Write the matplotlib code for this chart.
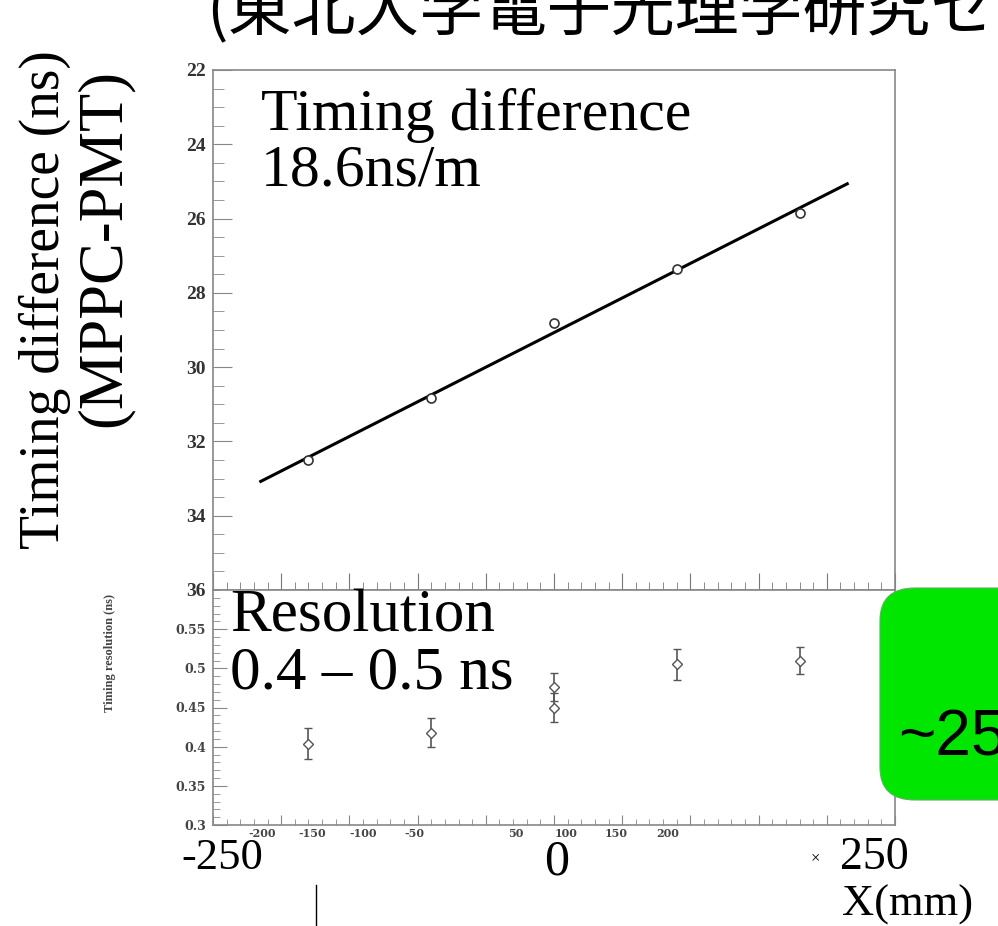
import numpy as np
import matplotlib.pyplot as plt
from matplotlib.patches import FancyBboxPatch
from matplotlib.ticker import MultipleLocator

# positions along the bar (mm)
pos = [-180, -90, 0, 90, 180]
# timing difference MPPC-PMT (ns)
tdiff = [32.5, 30.83, 28.81, 27.36, 25.85]
# timing resolution (ns), two runs at the centre
res_x = [-180, -90, 0, 0, 90, 180]
res = [0.404, 0.418, 0.476, 0.450, 0.505, 0.510]
res_err = [0.02, 0.018, 0.018, 0.018, 0.02, 0.017]
# original small tick labels of the lower pad
small_ticks = [-200, -150, -100, -50, 50, 100, 150, 200]

W, H = 998, 926
serif = ['Liberation Serif', 'DejaVu Serif']
tickfont = ['DejaVu Serif']

fig = plt.figure(figsize=(W / 100, H / 100), dpi=100)


def fx(px):
    return px / W


def fy(py):
    return 1 - py / H


ax1 = fig.add_axes([fx(213), fy(590), fx(895) - fx(213), (590 - 70) / H])
ax2 = fig.add_axes([fx(213), fy(825), fx(895) - fx(213), (825 - 590) / H])

# fit line
p = np.polyfit(pos, tdiff, 1)
xl = np.array([-215, 215])
ax1.plot(xl, np.polyval(p, xl), color='black', lw=2.2)
ax1.plot(pos, tdiff, 'o', mfc='white', mec='#333333', ms=6.5, mew=1.2)
ax1.set_xlim(-250, 250)
ax1.set_ylim(36, 22)
ax1.yaxis.set_major_locator(MultipleLocator(2))
ax1.yaxis.set_minor_locator(MultipleLocator(0.5))
ax1.xaxis.set_major_locator(MultipleLocator(50))
ax1.xaxis.set_minor_locator(MultipleLocator(10))
ax1.tick_params(axis='x', which='both', direction='in', labelbottom=False, top=False)
ax1.tick_params(axis='x', which='major', length=12, color='#777777')
ax1.tick_params(axis='x', which='minor', length=6, color='#777777')
ax1.tick_params(axis='y', which='both', direction='in', right=False, pad=5, color='#888888')
ax1.tick_params(axis='y', which='major', length=14)
ax1.tick_params(axis='y', which='minor', length=8)
for lab in ax1.get_yticklabels():
    lab.set_fontfamily(serif)
    lab.set_fontweight('bold')
    lab.set_fontsize(14)
    lab.set_color('#333333')
ax1.text(0.07, 0.965, 'Timing difference\n18.6ns/m', transform=ax1.transAxes,
         family=serif, fontsize=43, va='top', ha='left', linespacing=1.03)

ax2.errorbar(res_x, res, yerr=res_err, fmt='D', mfc='white', mec='#555555', ms=5,
             ecolor='#555555', elinewidth=1.2, capsize=3, mew=1)
ax2.set_xlim(-250, 250)
ax2.set_ylim(0.3, 0.6)
ax2.yaxis.set_major_locator(MultipleLocator(0.05))
ax2.yaxis.set_minor_locator(MultipleLocator(0.01))
ax2.xaxis.set_major_locator(MultipleLocator(50))
ax2.xaxis.set_minor_locator(MultipleLocator(10))
ax2.tick_params(axis='x', which='both', direction='in', labelbottom=False, color='#888888')
ax2.tick_params(axis='x', which='major', length=7)
ax2.tick_params(axis='x', which='minor', length=4)
ax2.tick_params(axis='y', which='both', direction='in', color='#888888', pad=5)
ax2.tick_params(axis='y', which='major', length=10)
ax2.tick_params(axis='y', which='minor', length=5)
ax2.set_yticks([0.3, 0.35, 0.4, 0.45, 0.5, 0.55])
ax2.set_yticklabels(['0.3', '0.35', '0.4', '0.45', '0.5', '0.55'])
for lab in ax2.get_yticklabels():
    lab.set_fontfamily(tickfont)
    lab.set_fontweight('bold')
    lab.set_fontsize(9)
    lab.set_color('#444444')
ax2.text(0.025, 1.005, 'Resolution\n0.4 \u2013 0.5 ns', transform=ax2.transAxes,
         family=serif, fontsize=44, va='top', ha='left', linespacing=1.03)

for ax in (ax1, ax2):
    for s in ax.spines.values():
        s.set_color('#888888')
        s.set_linewidth(1.2)

# squeezed tick labels of the original pad
for v in small_ticks:
    ax2.text(0.743 * v - 65.5, -0.035, '%d' % v, transform=ax2.get_xaxis_transform(),
             family=tickfont, fontweight='bold', fontsize=8, color='#444444',
             ha='center', va='center')

# slide overlay texts
fig.text(fx(206), fy(30), '(東北大学電子光理学研究セ', fontsize=46,
         family=['Noto Sans CJK JP', 'DejaVu Sans'], ha='left', va='baseline')
fig.text(fx(45), fy(300), 'Timing difference (ns)', rotation=90, family=serif,
         fontsize=40, ha='center', va='center')
fig.text(fx(105), fy(248), '(MPPC-PMT)', rotation=90, family=serif,
         fontsize=45, ha='center', va='center')
fig.text(fx(110), fy(653), 'Timing resolution (ns)', rotation=90, family=serif,
         fontsize=9, fontweight='bold', ha='center', va='center', color='#444444')
fig.text(fx(222), fy(858), '-250', family=serif, fontsize=32, ha='center', va='center')
fig.text(fx(557), fy(862), '0', family=serif, fontsize=36, ha='center', va='center')
fig.text(fx(815), fy(858), '\u00d7', family=serif, fontsize=12, ha='center', va='center')
fig.text(fx(874), fy(858), '250', family=serif, fontsize=33, ha='center', va='center')
fig.text(fx(908), fy(905), 'X(mm)', family=serif, fontsize=32, ha='center', va='center')
fig.add_artist(plt.Line2D([fx(316), fx(316)], [fy(885), 0], color='black', lw=1))

box = FancyBboxPatch((fx(880), fy(800)), fx(1060) - fx(880), (800 - 588) / H,
                     boxstyle='round,pad=0,rounding_size=0.035', transform=fig.transFigure,
                     fc='#00e600', ec='#66aa66', lw=0.8, clip_on=False)
fig.add_artist(box)
fig.text(fx(898), fy(738), '~25', family=['Liberation Sans', 'DejaVu Sans'],
         fontsize=46, ha='left', va='center')

plt.savefig('out.png', dpi=100)
